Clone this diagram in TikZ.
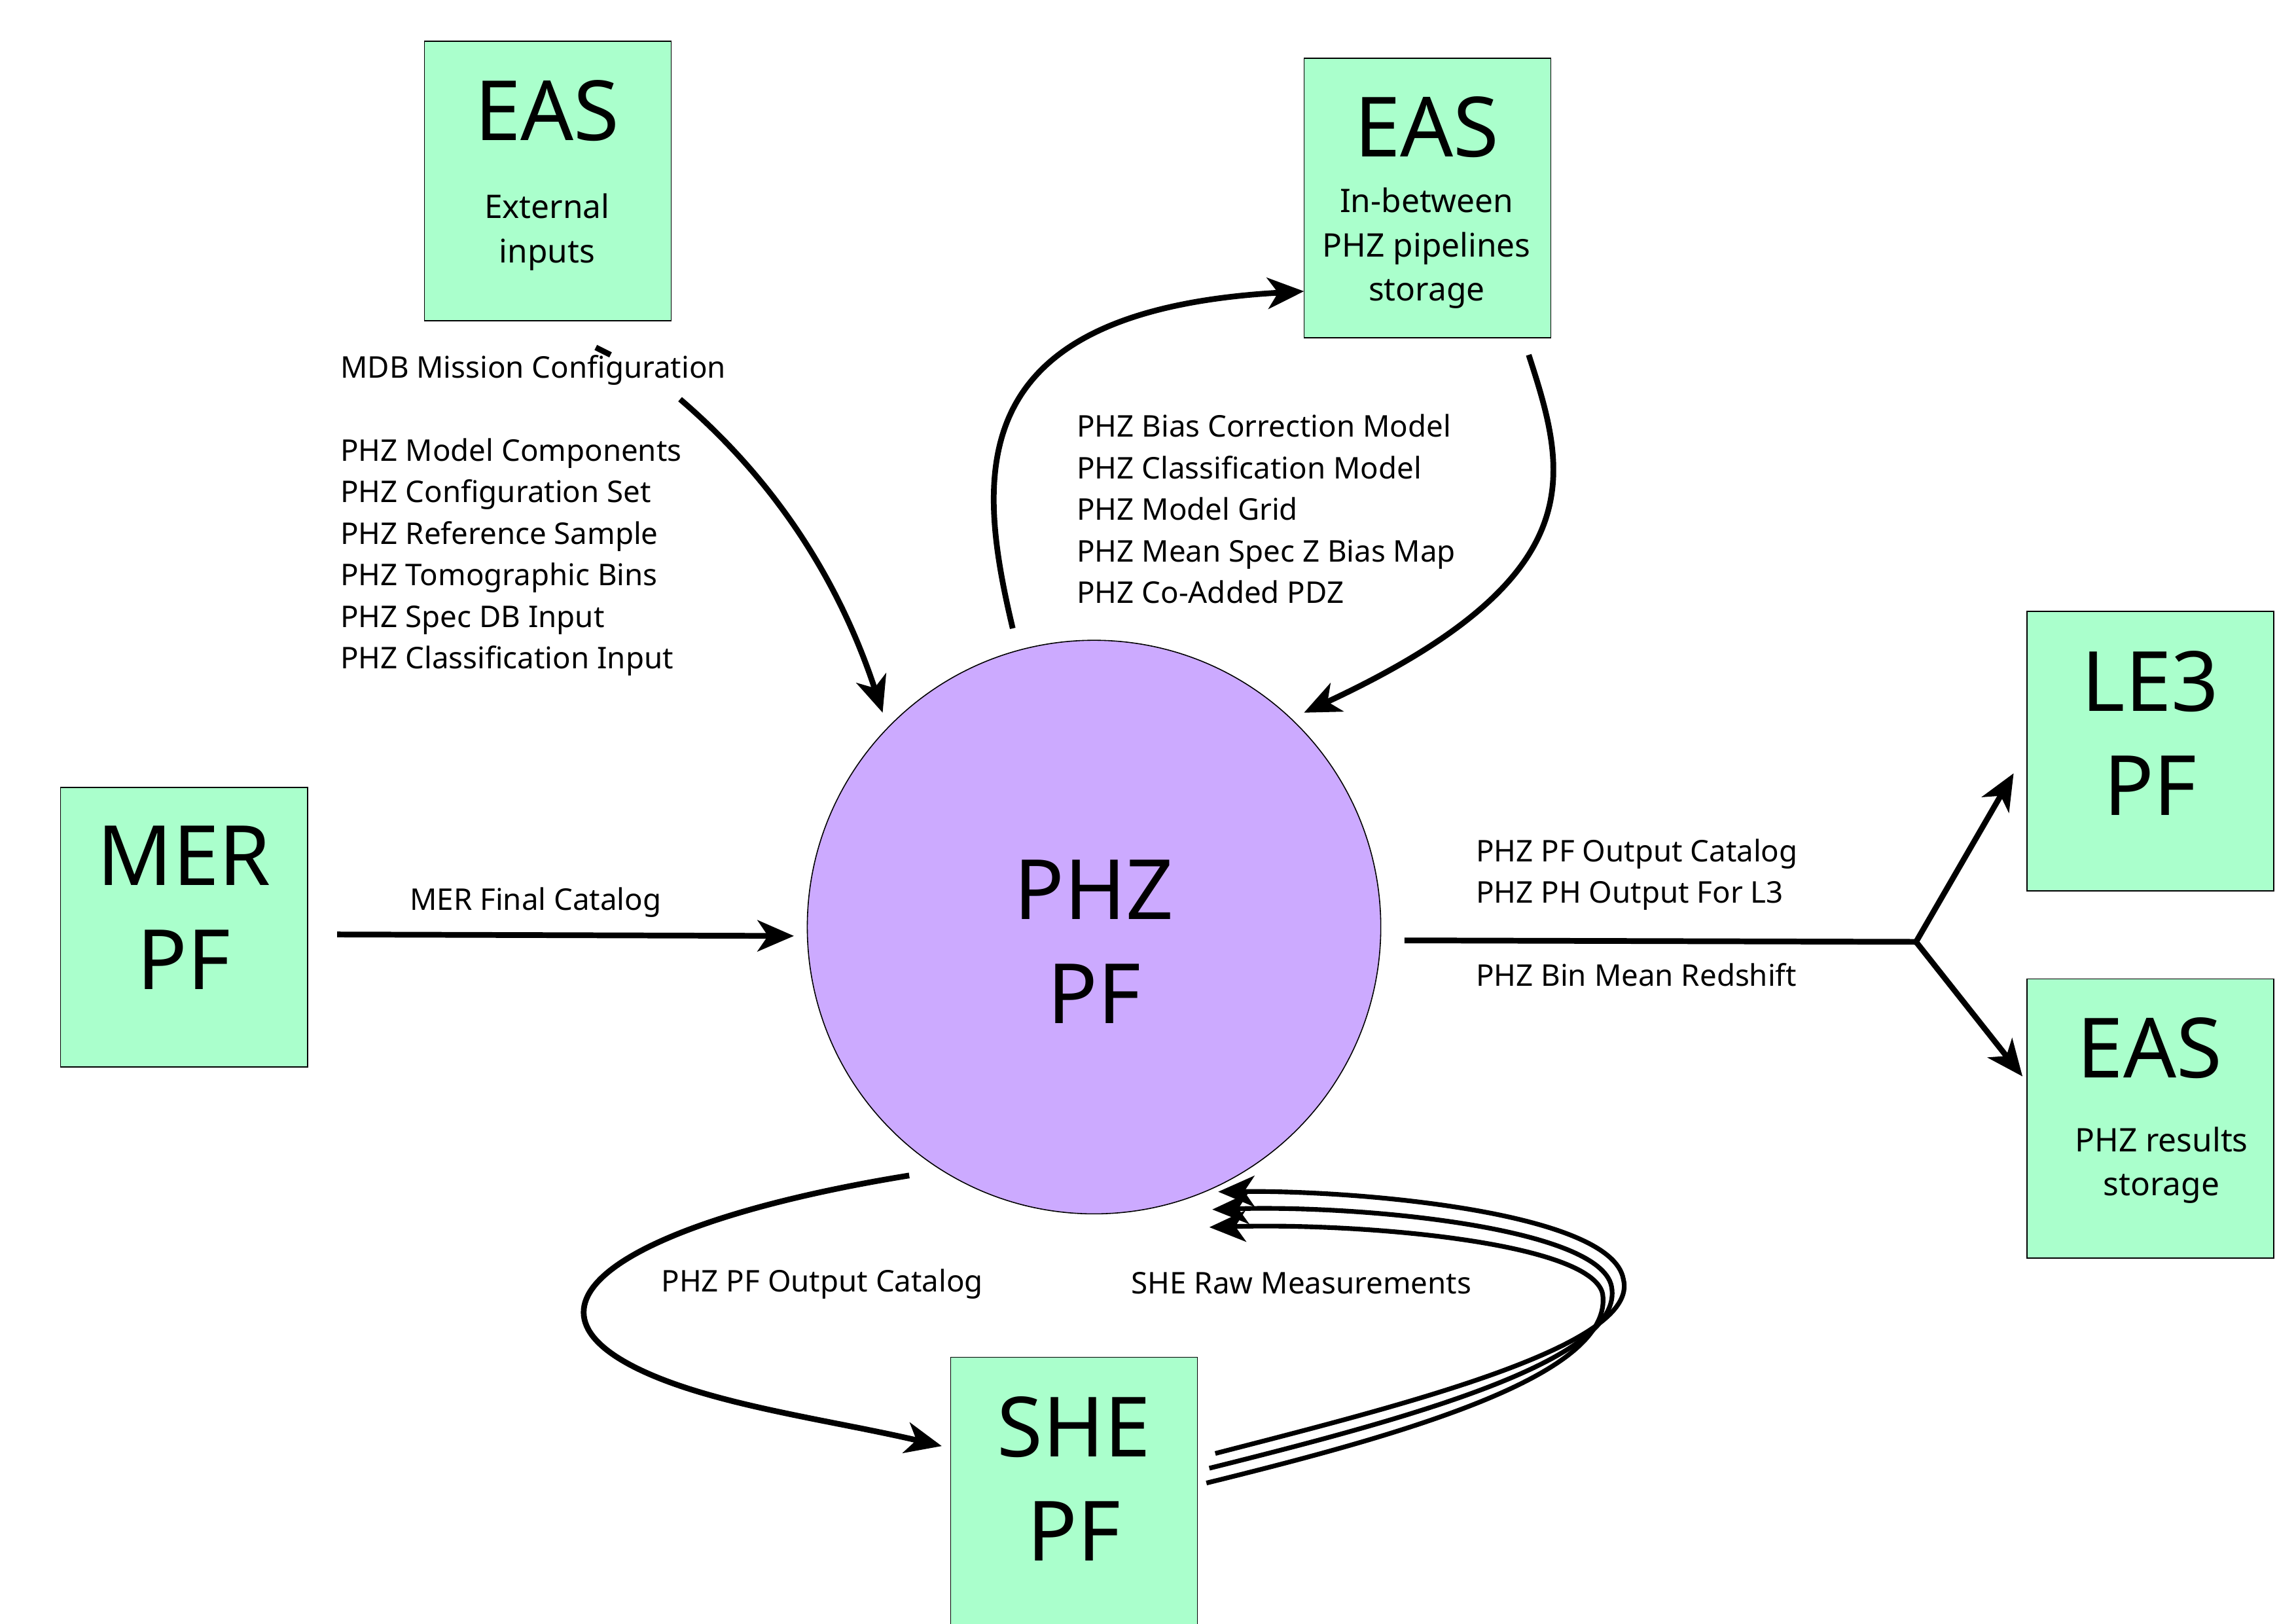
\documentclass[tikz,border=0pt]{standalone}
\usepackage{fontspec}
\setmainfont{Noto Sans}
\usetikzlibrary{arrows.meta}
\begin{document}
\begin{tikzpicture}[x=0.02cm,y=-0.02cm,
 box/.style={draw=black,fill=green!10!cyan!5!green!30!white,fill={rgb,255:red,170;green,255;blue,204},minimum width=3.34cm,minimum height=3.78cm,inner sep=0,align=center},
 big/.style={font=\fontsize{32}{40}\selectfont},
 lbl/.style={font=\fontsize{11.5}{16}\selectfont,align=left,anchor=north west,inner sep=0},
 arr/.style={line width=2.2pt,-{Stealth[length=14pt,width=12pt,inset=4pt]}},
 ln/.style={line width=2.2pt}]
\useasboundingbox (0,0) rectangle (1553,1098);
\node[box] (eas1) at (370.5,122.5) {};
\node[big] at (370,75) {EAS};
\node[font=\fontsize{12.5}{17}\selectfont,align=center] at (370,157) {External\\inputs};
\node[box] (eas2) at (965.5,134) {};
\node[big] at (965,86) {EAS};
\node[font=\fontsize{12.5}{17}\selectfont,align=center] at (965,168) {In-between\\PHZ pipelines\\storage};
\node[box] (mer) at (124.5,627) {};
\node[big,align=center] at (124.5,614) {MER\\PF};
\node[box] (le3) at (1454.5,508) {};
\node[big,align=center] at (1454.5,496) {LE3\\PF};
\node[box] (eas3) at (1454.5,756.5) {};
\node[big] at (1454,709) {EAS};
\node[font=\fontsize{12.5}{17}\selectfont,align=center] at (1462,788) {PHZ results\\storage};
\node[box] (she) at (726.5,1012.5) {};
\node[big,align=center] at (726.5,1000) {SHE\\PF};
\node[draw=black,fill={rgb,255:red,204;green,170;blue,255},circle,minimum size=7.76cm,inner sep=0] (phz) at (740,627) {};
\node[big,align=center] at (740,637) {PHZ\\PF};
% labels
\node[lbl] at (230,240) {MDB Mission Configuration};
\node[lbl] at (230,296) {PHZ Model Components\\PHZ Configuration Set\\PHZ Reference Sample\\PHZ Tomographic Bins\\PHZ Spec DB Input\\PHZ Classification Input};
\node[lbl] at (728,280) {PHZ Bias Correction Model\\PHZ Classification Model\\PHZ Model Grid\\PHZ Mean Spec Z Bias Map\\PHZ Co-Added PDZ};
\node[lbl] at (277,600) {MER Final Catalog};
\node[lbl] at (998,567) {PHZ PF Output Catalog\\PHZ PH Output For L3};
\node[lbl] at (998,651) {PHZ Bin Mean Redshift};
\node[lbl] at (447,858) {PHZ PF Output Catalog};
\node[lbl] at (765,860) {SHE Raw Measurements};
% coordinates
\coordinate (d1) at (403,235); \coordinate (d2) at (413,240);
\coordinate (a1) at (460,270); \coordinate (a1e) at (597,482);
\coordinate (b1) at (685,425); \coordinate (b1e) at (882,197);
\coordinate (c1) at (1034,240); \coordinate (c1e) at (882,482);
\coordinate (m1) at (228,632); \coordinate (m1e) at (537,633);
\coordinate (p1) at (950,636); \coordinate (j) at (1296,637);
\coordinate (l1) at (1362,523); \coordinate (e1) at (1368,728);
\coordinate (s1) at (615,795); \coordinate (s1e) at (637,978);
\coordinate (t1) at (822,983); \coordinate (t2) at (818,993); \coordinate (t3) at (816,1003);
\coordinate (u1) at (824,806); \coordinate (u2) at (820,818); \coordinate (u3) at (818,830);
\draw[ln] (d1) -- (d2);
\draw[arr] (a1) .. controls (530,330) and (570,400) .. (a1e);
\draw[arr] (b1) .. controls (660,320) and (650,210) .. (b1e);
\draw[arr] (c1) .. controls (1060,320) and (1080,390) .. (c1e);
\draw[arr] (m1) -- (m1e);
\draw[ln] (p1) -- (j);
\draw[arr] (j) -- (l1);
\draw[arr] (j) -- (e1);
\draw[arr] (s1) .. controls (430,825) and (340,880) .. (430,925) .. controls (480,950) and (560,960) .. (s1e);
\draw[arr,line width=1.8pt] (t1) .. controls (950,950) and (1110,910) .. (1098,865) .. controls (1090,820) and (920,805) .. (u1);
\draw[arr,line width=1.8pt] (t2) .. controls (950,960) and (1100,920) .. (1090,870) .. controls (1082,830) and (920,815) .. (u2);
\draw[arr,line width=1.8pt] (t3) .. controls (950,970) and (1092,930) .. (1084,875) .. controls (1076,840) and (920,827) .. (u3);
\end{tikzpicture}
\end{document}
